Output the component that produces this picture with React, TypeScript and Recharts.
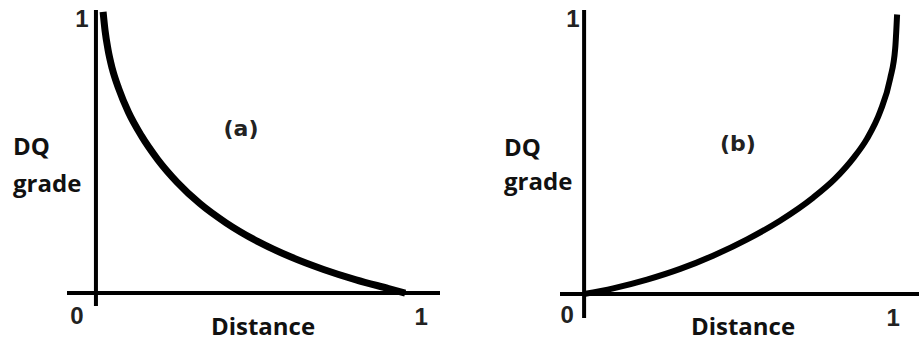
import React from "react";
import { LineChart, Line, XAxis, YAxis, ReferenceLine } from "recharts";

// panel (a): grade falls off with distance
const distA = [0.022, 0.028, 0.037, 0.05, 0.07, 0.1, 0.14, 0.19, 0.25, 0.32, 0.4, 0.5, 0.6, 0.7, 0.8, 0.9, 0.951];
const gradeA = [1.0, 0.934, 0.867, 0.799, 0.727, 0.643, 0.559, 0.475, 0.394, 0.318, 0.25, 0.182, 0.128, 0.084, 0.047, 0.016, 0.0];

// panel (b): grade rises with distance
const distB = [0.0, 0.093, 0.201, 0.307, 0.412, 0.521, 0.626, 0.732, 0.802, 0.859, 0.904, 0.946, 0.978, 0.994, 1.0];
const gradeB = [0.0, 0.02, 0.051, 0.089, 0.136, 0.194, 0.26, 0.342, 0.409, 0.48, 0.551, 0.647, 0.764, 0.871, 0.991];

const xTicks = [0, 1];
const yTicks = [1];
const panelLabels = ["(a)", "(b)"];
const xTitle = "Distance";
const yTitle = ["DQ", "grade"];

const dataA = distA.map((x, i) => ({ x, y: gradeA[i] }));
const dataB = distB.map((x, i) => ({ x, y: gradeB[i] }));

const tickFont = "'Liberation Sans', Arial, sans-serif";
const titleFont = "'Open Sans', sans-serif";

function makeTick(offsets: Record<number, [number, number]>) {
  return (props: any) => {
    const { x, y, payload } = props;
    const [dx, dy] = offsets[payload.value] || [0, 0];
    return (
      <text
        x={x + dx}
        y={y + dy}
        textAnchor="middle"
        fontFamily={tickFont}
        fontWeight="bold"
        fontSize={24}
        fill="#222"
      >
        {payload.value}
      </text>
    );
  };
}

function Panel({
  data,
  width,
  margin,
  xDomain,
  yDomain,
  xTickOffsets,
  yTickOffsets,
  xAxisHeight,
  lineWidth,
}: any) {
  return (
    <LineChart width={width} height={341} data={data} margin={margin}>
      <XAxis
        dataKey="x"
        type="number"
        domain={xDomain}
        ticks={xTicks}
        allowDataOverflow
        axisLine={false}
        tickLine={false}
        tickSize={0}
        tickMargin={0}
        height={xAxisHeight}
        interval={0}
        tick={makeTick(xTickOffsets)}
      />
      <YAxis
        type="number"
        domain={yDomain}
        ticks={yTicks}
        allowDataOverflow
        axisLine={false}
        tickLine={false}
        tickSize={0}
        tickMargin={0}
        width={1}
        interval={0}
        tick={makeTick(yTickOffsets)}
      />
      <ReferenceLine x={0} stroke="#000" strokeWidth={4} />
      <ReferenceLine y={0} stroke="#000" strokeWidth={4} />
      <Line
        dataKey="y"
        type="monotone"
        stroke="#000"
        strokeWidth={lineWidth}
        strokeLinecap="butt"
        dot={false}
        isAnimationActive={false}
      />
    </LineChart>
  );
}

export default function App() {
  return (
    <div style={{ position: "absolute", left: 0, top: 0, width: 919, height: 341, background: "#fff" }}>
      <div style={{ position: "absolute", left: 0, top: 0 }}>
        <Panel
          data={dataA}
          width={460}
          margin={{ top: 10, right: 20, bottom: 0, left: 66 }}
          xDomain={[-0.089, 1.058]}
          yDomain={[-0.046, 1.007]}
          xAxisHeight={35}
          xTickOffsets={{ 0: [-19, 18], 1: [0, 19] }}
          yTickOffsets={{ 1: [15, 15] }}
          lineWidth={7}
        />
      </div>
      <div style={{ position: "absolute", left: 460, top: 0 }}>
        <Panel
          data={dataB}
          width={459}
          margin={{ top: 10, right: 0, bottom: 0, left: 99 }}
          xDomain={[-0.077, 1.07]}
          yDomain={[-0.085, 1.007]}
          xAxisHeight={23}
          xTickOffsets={{ 0: [-17, 5], 1: [-4, 8] }}
          yTickOffsets={{ 1: [13, 15] }}
          lineWidth={6}
        />
      </div>
      <svg
        width={919}
        height={341}
        style={{ position: "absolute", left: 0, top: 0, pointerEvents: "none" }}
      >
        <g fontFamily={titleFont} fontWeight="bold" fontSize={24} fill="#111">
          <text x={13} y={155}>{yTitle[0]}</text>
          <text x={13} y={192}>{yTitle[1]}</text>
          <text x={504} y={156}>{yTitle[0]}</text>
          <text x={504} y={190}>{yTitle[1]}</text>
          <text x={263} y={335} textAnchor="middle">{xTitle}</text>
          <text x={743} y={335} textAnchor="middle">{xTitle}</text>
        </g>
        <g fontFamily="'DejaVu Sans', sans-serif" fontWeight="bold" fontSize={22} fill="#222" textAnchor="middle">
          <text x={241} y={136}>{panelLabels[0]}</text>
          <text x={738} y={151}>{panelLabels[1]}</text>
        </g>
      </svg>
    </div>
  );
}
